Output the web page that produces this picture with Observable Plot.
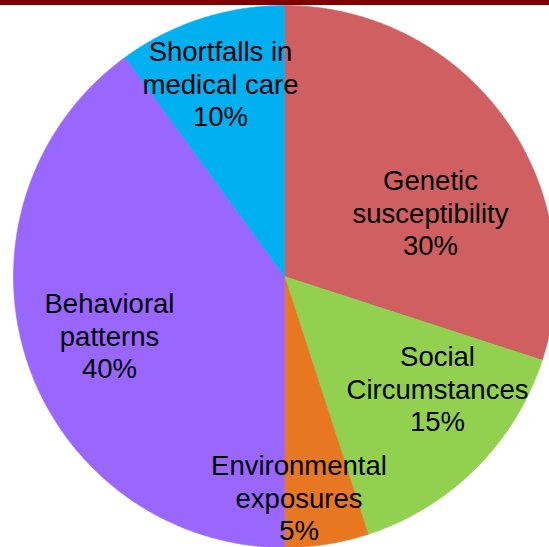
<!DOCTYPE html>
<html>
<head>
<meta charset="utf-8">
<script src="https://cdn.jsdelivr.net/npm/d3@7"></script>
<script src="https://cdn.jsdelivr.net/npm/@observablehq/plot@0.6"></script>
<style>
  html, body { margin: 0; padding: 0; background: #fff; }
  #wrap { position: relative; width: 549px; height: 547px; overflow: hidden; }
  #bar { position: absolute; left: 0; top: 0; width: 549px; height: 5px; background: #800000; }
  svg { display: block; }
</style>
</head>
<body>
<div id="wrap"><div id="chart"></div><div id="bar"></div></div>
<script>
// ---- data ----
const categories = ["Genetic susceptibility", "Social Circumstances", "Environmental exposures", "Behavioral patterns", "Shortfalls in medical care"];
const labelLines = [
  ["Genetic", "susceptibility"],
  ["Social", "Circumstances"],
  ["Environmental", "exposures"],
  ["Behavioral", "patterns"],
  ["Shortfalls in", "medical care"]
];
const values = [30, 15, 5, 40, 10];
const colors = ["#CF5F60", "#92D050", "#E87722", "#9966FF", "#00B0F0"];

// ---- layout (pixels) ----
const W = 549, H = 547;
const cx = 284, cy = 276, R = 271;
// label block centres in pixels
const labelPx = [[430, 212], [437, 388], [298.5, 497], [109, 335], [220, 83]];

// ---- geometry ----
const arcs = d3.pie().sort(null).value(d => d)(values);
const slices = [];
arcs.forEach((a, i) => {
  slices.push({cat: categories[i], x: 0, y: 0});
  const n = Math.max(2, Math.ceil((a.endAngle - a.startAngle) / (Math.PI / 360)));
  for (let k = 0; k <= n; k++) {
    const t = a.startAngle + (a.endAngle - a.startAngle) * k / n;
    slices.push({cat: categories[i], x: Math.sin(t), y: Math.cos(t)});
  }
  slices.push({cat: categories[i], x: 0, y: 0});
});

const labels = categories.map((c, i) => ({
  cat: c,
  text: labelLines[i].join("\n") + "\n" + values[i] + "%",
  x: (labelPx[i][0] - cx) / R,
  y: (cy - labelPx[i][1]) / R
}));

const chart = Plot.plot({
  width: W,
  height: H,
  margin: 0,
  x: {domain: [-1, 1], range: [cx - R, cx + R], axis: null},
  y: {domain: [-1, 1], range: [cy + R, cy - R], axis: null},
  color: {domain: categories, range: colors},
  marks: [
    Plot.line(slices, {x: "x", y: "y", z: "cat", fill: "cat", stroke: "cat", strokeWidth: 0.6, curve: "linear"}),
    Plot.text(labels, {
      x: "x", y: "y", text: "text",
      fontSize: 27.5, lineHeight: 1.18,
      fontFamily: "Liberation Sans, Arial, sans-serif",
      fill: "#000", textAnchor: "middle"
    })
  ]
});
document.getElementById("chart").appendChild(chart);
</script>
</body>
</html>
